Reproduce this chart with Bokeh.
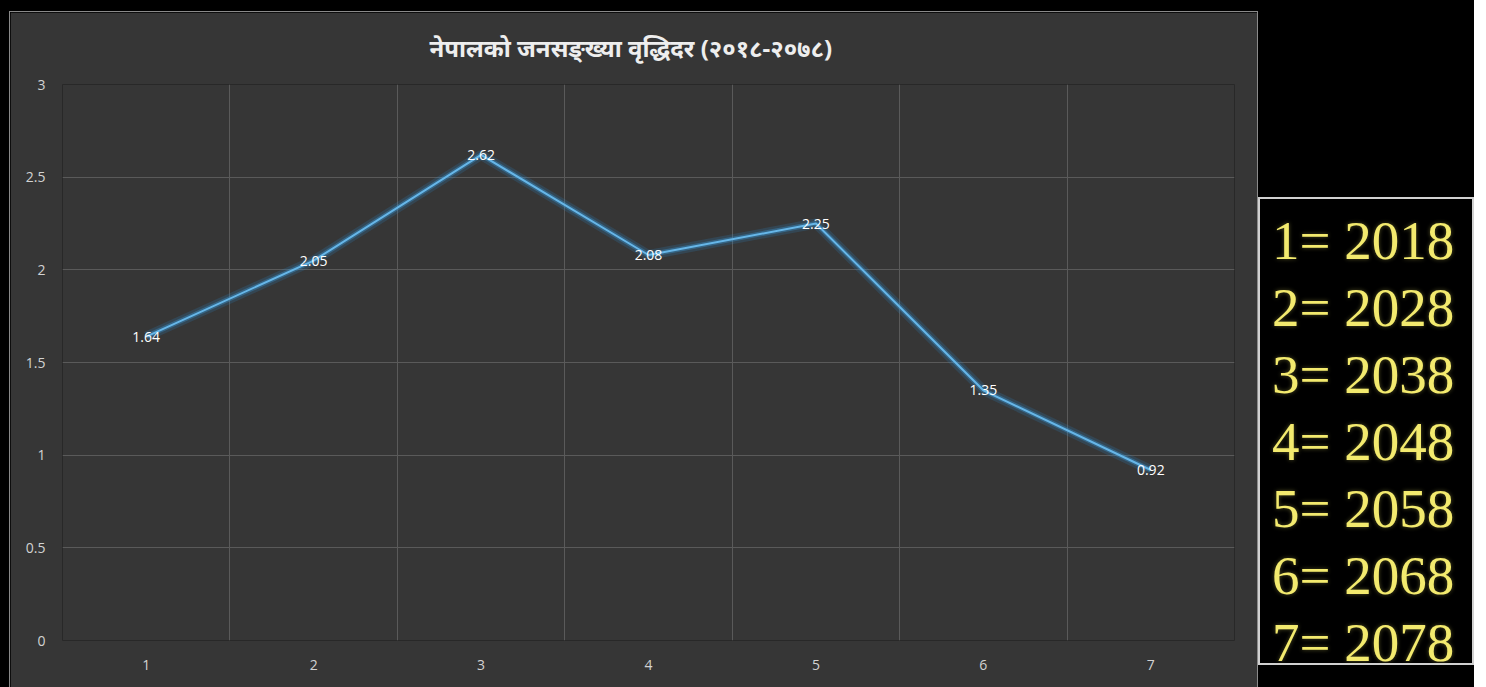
from bokeh.plotting import figure
from bokeh.layouts import row
from bokeh.models import Range1d, FixedTicker, ColumnDataSource, Div
from bokeh.core.properties import value
from bokeh.embed import file_html
from bokeh.resources import INLINE

# ---- data ----
categories = [1, 2, 3, 4, 5, 6, 7]
growth_rate = [1.64, 2.05, 2.62, 2.08, 2.25, 1.35, 0.92]
rate_labels = ["1.64", "2.05", "2.62", "2.08", "2.25", "1.35", "0.92"]
y_ticks = [0, 0.5, 1, 1.5, 2, 2.5, 3]
y_tick_labels = ["0", "0.5", "1", "1.5", "2", "2.5", "3"]
legend_keys = [1, 2, 3, 4, 5, 6, 7]
legend_years = [2018, 2028, 2038, 2048, 2058, 2068, 2078]
title_text = "नेपालको जनसङ्ख्या वृद्धिदर (२०१८-२०७८)"

PANEL = "#363636"
GRID = "#5a5a5a"

# ---- main chart ----
p = figure(width=1247, height=675, output_backend="svg", toolbar_location=None,
           x_range=Range1d(0.5, 7.5), y_range=Range1d(0, 3),
           min_border_left=52, min_border_right=23, min_border_top=72, min_border_bottom=47)
p.margin = (12, 0, 0, 10)
p.styles = {"outline": "1px solid #8a8a8a"}
p.background_fill_color = PANEL
p.border_fill_color = PANEL
p.outline_line_color = None

p.title.text = title_text
p.title.align = "left"
p.title.offset = 367
p.title.vertical_align = "top"
p.title.standoff = 37
p.title.text_color = "#eeeeee"
p.title.text_font = "Noto Sans"
p.title.text_font_size = "24px"
p.title.text_font_style = "bold"

p.xaxis.ticker = FixedTicker(ticks=categories)
p.yaxis.ticker = FixedTicker(ticks=y_ticks)
p.yaxis.major_label_overrides = dict(zip(y_ticks, y_tick_labels))
for ax in (p.xaxis, p.yaxis):
    ax.axis_line_color = None
    ax.major_tick_line_color = None
    ax.minor_tick_line_color = None
    ax.major_label_text_color = "#d2d2d2"
    ax.major_label_text_font = "Open Sans"
    ax.major_label_text_font_size = "14px"
p.yaxis.major_label_standoff = 11
p.xaxis.major_label_standoff = 13

boundaries = [c - 0.5 for c in categories] + [categories[-1] + 0.5]
p.xgrid.ticker = FixedTicker(ticks=boundaries)
p.xgrid.grid_line_color = GRID
p.ygrid.grid_line_color = GRID

src = ColumnDataSource(dict(x=categories, y=growth_rate, lbl=rate_labels))
p.line("x", "y", source=src, line_width=10, line_color="#2a8fd6", line_alpha=0.18)
p.line("x", "y", source=src, line_width=5, line_color="#3a9ee0", line_alpha=0.35)
p.line("x", "y", source=src, line_width=2, line_color="#66b6e8")
p.text("x", "y", text="lbl", source=src, text_color="#ffffff",
       text_font=value("Open Sans"), text_font_size="14px",
       text_align="center", text_baseline="middle")

# ---- year key box ----
key_lines = "<br>".join(f"{k}=&nbsp;{y}" for k, y in zip(legend_keys, legend_years))
key_box = Div(
    text=(
        '<div style="font-family:\'Liberation Serif\',serif;font-size:55px;'
        'color:#f3ea6e;line-height:67px;padding:8px 0 0 12px;white-space:nowrap;'
        'text-shadow:0 0 4px rgba(243,234,110,0.35);">' + key_lines + "</div>"
    ),
    width=216, height=468,
    styles={"border": "2px solid #d0d0d0", "background-color": "#000000",
            "box-sizing": "border-box", "overflow": "visible"},
)
key_box.margin = (197, 0, 0, 1)

layout = row(p, key_box)
layout.styles = {"background-color": "#000000"}

html = file_html(layout, INLINE, title="Nepal population growth rate")
html = html.replace("<body>", '<body style="background-color:#000000;">', 1)
open("out.html", "w").write(html)
